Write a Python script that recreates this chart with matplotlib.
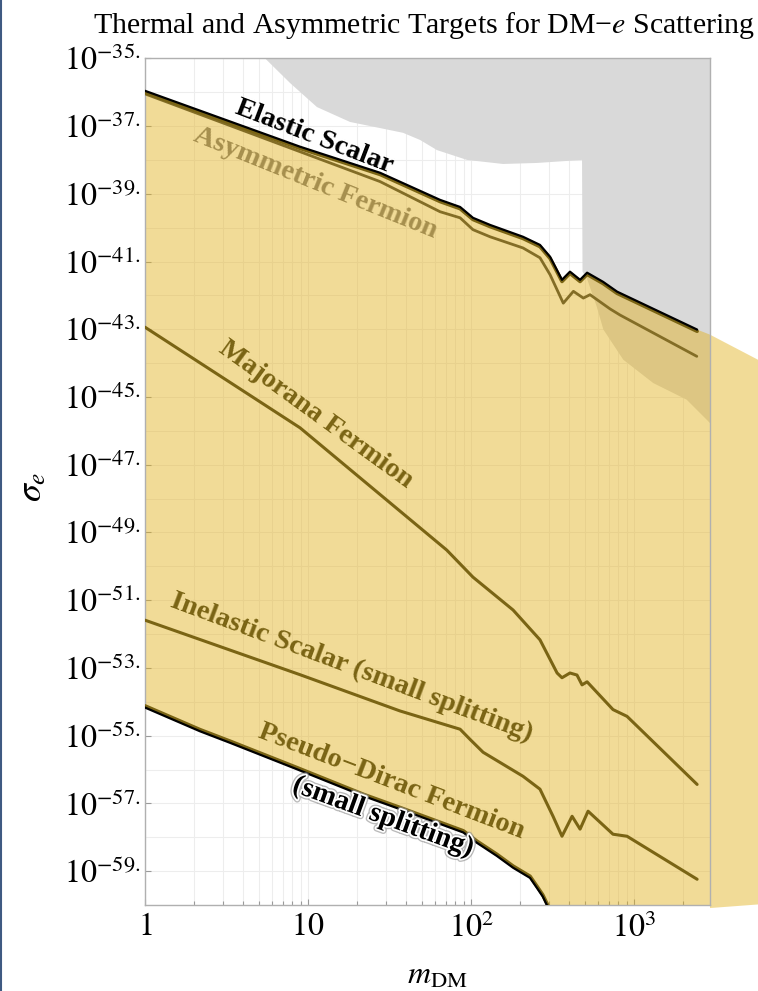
import numpy as np
import matplotlib
matplotlib.use("Agg")
import matplotlib.pyplot as plt
from matplotlib import patheffects as pe
from matplotlib.lines import Line2D
from matplotlib.ticker import FixedLocator, NullFormatter

plt.rcParams["font.family"] = ["Liberation Serif", "DejaVu Serif"]
plt.rcParams["mathtext.fontset"] = "stix"

# ---- curves: log10(m_DM / MeV) and log10(sigma_e / cm^2) ----
elastic_lm = [0.0, 0.951, 1.442, 1.810, 1.933, 2.012, 2.117, 2.319, 2.423, 2.485,
              2.558, 2.607, 2.669, 2.712, 2.810, 2.896, 3.387]
elastic_ls = [-35.96, -37.61, -38.38, -39.18, -39.39, -39.71, -39.92, -40.27, -40.51, -40.86,
              -41.54, -41.30, -41.54, -41.33, -41.60, -41.89, -43.01]

asym_lm = [0.0, 1.442, 1.810, 1.933, 2.012, 2.117, 2.319, 2.423, 2.485, 2.566,
           2.628, 2.689, 2.730, 2.853, 2.914, 3.385]
asym_ls = [-36.05, -38.64, -39.53, -39.71, -40.06, -40.27, -40.60, -40.89, -41.39, -42.23,
           -41.88, -42.08, -41.98, -42.40, -42.58, -43.80]

majorana_lm = [0.0, 0.951, 1.851, 2.012, 2.258, 2.423, 2.528, 2.558, 2.607,
               2.650, 2.681, 2.712, 2.871, 2.957, 3.387]
majorana_ls = [-42.94, -45.91, -49.52, -50.32, -51.29, -52.17, -53.15, -53.29, -53.15,
               -53.21, -53.50, -53.41, -54.23, -54.43, -56.44]

inelastic_lm = [0.0, 0.951, 1.564, 1.933, 1.994, 2.074, 2.319, 2.423, 2.503,
                2.558, 2.620, 2.669, 2.718, 2.871, 2.957, 3.387]
inelastic_ls = [-51.59, -53.20, -54.27, -54.81, -55.11, -55.49, -56.20, -56.58, -57.38,
                -57.97, -57.38, -57.76, -57.23, -57.91, -57.97, -59.24]

pdirac_lm = [0.0, 0.337, 0.521, 0.931, 1.339, 1.564, 1.953, 2.035, 2.158, 2.258,
             2.362, 2.405, 2.440, 2.475]
pdirac_ls = [-54.17, -54.87, -55.21, -55.99, -56.78, -57.17, -57.86, -58.16, -58.55, -58.90,
             -59.20, -59.50, -59.75, -60.10]

# excluded region (lower edge)
excl_lm = [0.736, 0.890, 1.055, 1.258, 1.442, 1.583, 1.687, 1.791, 1.975, 2.196,
           2.405, 2.681, 2.684, 2.710, 2.771, 2.812, 2.934, 3.118, 3.323, 3.466]
excl_ls = [-35.0, -35.73, -36.44, -36.88, -37.06, -37.20, -37.41, -37.71, -38.00, -38.12,
           -38.09, -38.00, -41.30, -41.49, -42.33, -43.01, -43.90, -44.59, -45.08, -45.77]

# thermal band continuation at the high-mass end
band_end_lm = [3.466, 3.800]
band_end_top_ls = [-43.16, -44.00]
band_end_bot_ls = [-60.09, -59.97]

x_ticks = [1, 10, 100, 1000]
x_ticklabels = [r"$1$", r"$10$", r"$10^{2}$", r"$10^{3}$"]
y_exponents = list(range(-35, -60, -2))

XMIN, XMAX = 1.0, 10 ** 3.466
YMIN, YMAX = 1e-60, 1e-35

OLIVE = "#7a6414"
OLIVE_LIGHT = "#a68f4e"
GOLD = (226 / 255, 177 / 255, 26 / 255)
GREY = "#d9d9d9"


def lin(a):
    return 10.0 ** np.asarray(a, dtype=float)


W, H = 758, 991
fig = plt.figure(figsize=(W / 100, H / 100), dpi=100)
ax = fig.add_axes([145 / W, 1 - 905 / H, 565 / W, (905 - 58.3) / H])
ax.set_xscale("log")
ax.set_yscale("log")
ax.set_xlim(XMIN, XMAX)
ax.set_ylim(YMIN, YMAX)

# excluded (grey) region
gx = np.concatenate([excl_lm, [3.466]])
gy = np.concatenate([excl_ls, [-35.0]])
ax.fill(lin(gx), lin(gy), color=GREY, lw=0, zorder=1)

# thermal band between the elastic-scalar and pseudo-Dirac curves
top_lm = list(elastic_lm) + [band_end_lm[0]]
top_ls = list(elastic_ls) + [band_end_top_ls[0]]
bx = np.concatenate([top_lm, [band_end_lm[0]], pdirac_lm[::-1]])
by = np.concatenate([top_ls, [band_end_bot_ls[0]], pdirac_ls[::-1]])
ax.fill(lin(bx), lin(by), color=GOLD, alpha=0.45, lw=0, zorder=2)

ex = [band_end_lm[0], band_end_lm[1], band_end_lm[1], band_end_lm[0]]
ey = [band_end_top_ls[0], band_end_top_ls[1], band_end_bot_ls[1], band_end_bot_ls[0]]
ax.fill(lin(ex), lin(ey), color=GOLD, alpha=0.45, lw=0, zorder=2, clip_on=False)

# curves
line_kw = dict(solid_capstyle="round", solid_joinstyle="round")
ax.plot(lin(asym_lm), lin(asym_ls), color="#836d26", lw=2.0, zorder=3, **line_kw)
ax.plot(lin(majorana_lm), lin(majorana_ls), color=OLIVE, lw=2.2, zorder=3, **line_kw)
ax.plot(lin(inelastic_lm), lin(inelastic_ls), color=OLIVE, lw=2.2, zorder=3, **line_kw)
ax.plot(lin(elastic_lm), lin(elastic_ls), color="black", lw=1.6, zorder=4,
        path_effects=[pe.Stroke(offset=(0, -1.2), linewidth=2.6, foreground=OLIVE),
                      pe.Normal()], **line_kw)
ax.plot(lin(pdirac_lm), lin(pdirac_ls), color="black", lw=1.6, zorder=4,
        path_effects=[pe.Stroke(offset=(0, 1.2), linewidth=2.6, foreground=OLIVE),
                      pe.Normal()], **line_kw)

# grid and ticks
ax.set_axisbelow(True)
ax.yaxis.set_major_locator(FixedLocator([10.0 ** e for e in y_exponents]))
ax.yaxis.set_minor_locator(FixedLocator([10.0 ** e for e in range(-60, -34)]))
ax.yaxis.set_minor_formatter(NullFormatter())
ax.set_yticklabels([r"$10^{%d.}$" % e for e in y_exponents])
ax.set_xticks(x_ticks)
ax.set_xticklabels(x_ticklabels)
ax.xaxis.set_minor_formatter(NullFormatter())
ax.grid(which="both", axis="both", color="#ededed", lw=0.8)

ax.tick_params(axis="both", which="major", direction="in", color="#9a9a9a",
               labelsize=23, width=0.8)
ax.tick_params(axis="x", which="major", length=4.5, pad=6)
ax.tick_params(axis="x", which="minor", direction="in", length=3, color="#9a9a9a", width=0.8)
ax.tick_params(axis="y", which="major", length=4, pad=3)
ax.tick_params(axis="y", which="minor", length=0)
for s in ax.spines.values():
    s.set_color("#b0b0b0")
    s.set_linewidth(1.0)

# curve labels
lab = dict(fontsize=20.5, fontweight="bold", ha="center", va="center",
           rotation_mode="anchor", zorder=6)
ax.text(10 ** 1.037, 10 ** -37.32, "Elastic Scalar", color="black", rotation=-21, **lab)
ax.text(10 ** 1.043, 10 ** -38.68, "Asymmetric Fermion", color=OLIVE_LIGHT, rotation=-22, **lab)
ax.text(10 ** 1.049, 10 ** -45.52, "Majorana Fermion", color=OLIVE, rotation=-36, **lab)
ax.text(10 ** 1.264, 10 ** -52.99, "Inelastic Scalar (small splitting)", color=OLIVE,
        rotation=-20.5, **lab)
ax.text(10 ** 1.509, 10 ** -56.35, "Pseudo\u2212Dirac Fermion", color=OLIVE,
        rotation=-21, **lab)
ax.text(10 ** 1.460, 10 ** -57.41, "(small splitting)", color="black", rotation=-20,
        path_effects=[pe.Stroke(linewidth=4.5, foreground="#8c8c8c", alpha=0.6),
                      pe.Stroke(linewidth=2.6, foreground="white"), pe.Normal()],
        **lab)

# titles and axis labels
fig.text(424 / W, 1 - 33 / H, "Thermal and Asymmetric Targets for DM\u2212$e$ Scattering",
         ha="center", va="baseline", fontsize=21.5)
fig.text(33 / W, 1 - 487 / H, r"$\sigma_e$", rotation=90, ha="center", va="center",
         fontsize=26)
fig.text(437 / W, 1 - 984 / H, r"$m_{\mathrm{DM}}$", ha="center", va="baseline",
         fontsize=23)

fig.add_artist(Line2D([0.0015, 0.0015], [0, 1], color="#3f5a82", lw=1.5))

fig.savefig("out.png", dpi=100)
